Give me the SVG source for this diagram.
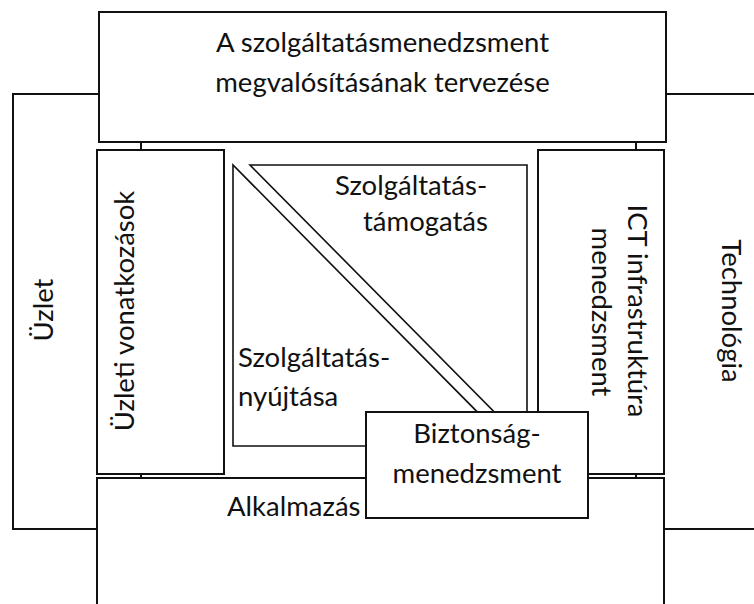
<svg xmlns="http://www.w3.org/2000/svg" width="754" height="604" viewBox="0 0 754 604">
<style>
  .box { fill: #ffffff; stroke: #111111; stroke-width: 2; }
  .open { fill: none; stroke: #111111; stroke-width: 2; }
  .tri { fill: #ffffff; stroke: #111111; stroke-width: 1.6; stroke-linejoin: miter; }
  .conn { stroke: #111111; stroke-width: 2; fill: none; }
  text { font-family: Lato, "Open Sans", "DejaVu Sans", sans-serif; font-size: 27.5px; fill: #111111; }
  .c { text-anchor: middle; }
  .s { text-anchor: start; }
</style>
<rect x="0" y="0" width="754" height="604" fill="#ffffff"/>

<g id="uzlet">
  <path class="open" d="M99,94 H13 V529 H97"/>
  <text class="c" transform="translate(53,310) rotate(-90)">Üzlet</text>
</g>

<g id="technologia">
  <path class="open" d="M666,94 H760 V529 H664"/>
  <text class="c" transform="translate(722,311) rotate(90)">Technológia</text>
</g>

<g id="tervezes">
  <rect class="box" x="99" y="12" width="567" height="130"/>
  <text class="c" x="382.5" y="52">A szolgáltatásmenedzsment</text>
  <text class="c" x="382.5" y="92">megvalósításának tervezése</text>
</g>

<g id="uzleti-vonatkozasok">
  <rect class="box" x="97" y="150" width="127" height="324"/>
  <text class="c" transform="translate(134,311) rotate(-90)">Üzleti vonatkozások</text>
</g>

<g id="ict">
  <rect class="box" x="538" y="150" width="126" height="324"/>
  <text class="c" transform="translate(628,311) rotate(90)">ICT infrastruktúra</text>
  <text class="c" transform="translate(592,312) rotate(90)">menedzsment</text>
</g>

<g id="szolgaltatas-tamogatas">
  <polygon class="tri" points="250,165 527,165 527,445"/>
  <text class="s" x="335" y="195">Szolgáltatás-</text>
  <text class="s" x="363" y="231">támogatás</text>
</g>

<g id="szolgaltatas-nyujtasa">
  <polygon class="tri" points="233,165 233,446 511,446"/>
  <text class="s" x="238" y="367">Szolgáltatás-</text>
  <text class="s" x="238" y="406">nyújtása</text>
</g>

<g id="alkalmazas">
  <rect class="box" x="97" y="478" width="567" height="140"/>
  <text class="s" x="227" y="516">Alkalmazás</text>
</g>

<g id="biztonsag">
  <rect class="box" x="366" y="412" width="222" height="106"/>
  <text class="c" x="477" y="443">Biztonság-</text>
  <text class="c" x="477" y="483">menedzsment</text>
</g>

<g id="connectors">
  <line class="conn" x1="141" y1="142" x2="141" y2="150"/>
  <line class="conn" x1="141" y1="474" x2="141" y2="478"/>
  <line class="conn" x1="636" y1="142" x2="636" y2="150"/>
  <line class="conn" x1="636" y1="474" x2="636" y2="478"/>
</g>
</svg>
